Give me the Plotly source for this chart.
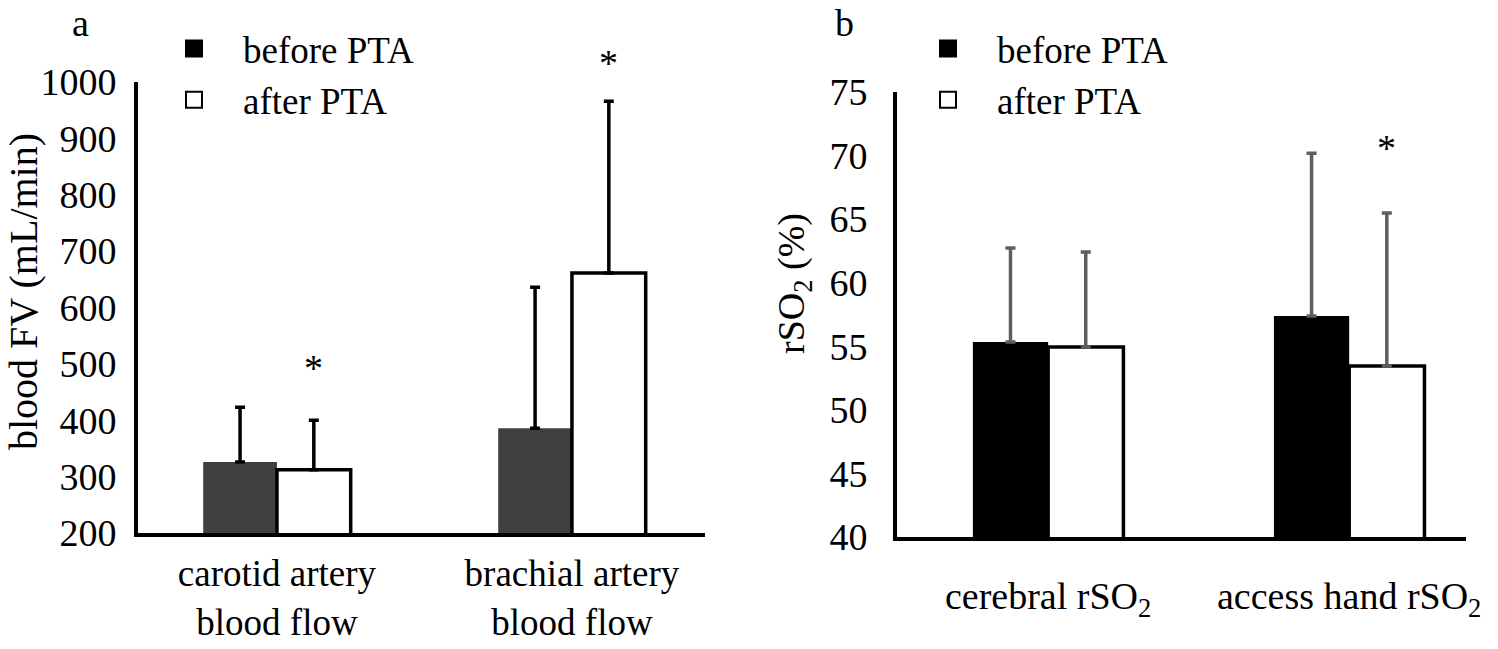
import plotly.graph_objects as go

# panel a: blood flow volume
flow_groups = ["carotid artery<br>blood flow", "brachial artery<br>blood flow"]
flow_before = [326, 386]
flow_before_sd = [97, 250]
flow_after = [312, 661]
flow_after_sd = [88, 305]
flow_ticks = [200, 300, 400, 500, 600, 700, 800, 900, 1000]

# panel b: regional oxygen saturation
rso2_groups = ["cerebral rSO<sub>2</sub>", "access hand rSO<sub>2</sub>"]
rso2_before = [55.34, 57.39]
rso2_before_sd = [7.4, 12.8]
rso2_after = [54.95, 53.45]
rso2_after_sd = [7.47, 12.04]
rso2_ticks = [40, 45, 50, 55, 60, 65, 70, 75]

pos = [0, 1]
gap = 0.5
FONT = "Liberation Serif"

# the page body has an 8px margin, so place things in page pixels
W, H = 1490, 641


def fx(p):
    return (p - 8) / W


def fy(p):
    return 1 - (p - 8) / H


fig = go.Figure()

fig.add_trace(go.Bar(
    x=pos, y=flow_before, name="before PTA", showlegend=False,
    marker=dict(color="#404040", line=dict(width=0)),
    error_y=dict(type="data", array=flow_before_sd, arrayminus=[0, 0], symmetric=False,
                 color="black", thickness=3.5, width=5),
    xaxis="x", yaxis="y",
))
fig.add_trace(go.Bar(
    x=pos, y=flow_after, name="after PTA", showlegend=False,
    marker=dict(color="white", line=dict(color="black", width=3.5)),
    error_y=dict(type="data", array=flow_after_sd, arrayminus=[0, 0], symmetric=False,
                 color="black", thickness=3.5, width=5),
    xaxis="x", yaxis="y",
))
fig.add_trace(go.Bar(
    x=pos, y=rso2_before, name="before PTA", showlegend=False,
    marker=dict(color="black", line=dict(width=0)),
    error_y=dict(type="data", array=rso2_before_sd, arrayminus=[0, 0], symmetric=False,
                 color="#5f5f5f", thickness=3.5, width=5),
    xaxis="x2", yaxis="y2",
))
fig.add_trace(go.Bar(
    x=pos, y=rso2_after, name="after PTA", showlegend=False,
    marker=dict(color="white", line=dict(color="black", width=3.5)),
    error_y=dict(type="data", array=rso2_after_sd, arrayminus=[0, 0], symmetric=False,
                 color="#5f5f5f", thickness=3.5, width=5),
    xaxis="x2", yaxis="y2",
))

# legend entries (square swatches like the original)
for lg, xa, ya in [("legend", "x", "y"), ("legend2", "x2", "y2")]:
    fig.add_trace(go.Scatter(
        x=[None], y=[None], mode="markers", name="before PTA", legend=lg,
        marker=dict(symbol="square", size=16, color="black",
                    line=dict(color="black", width=2)),
        xaxis=xa, yaxis=ya,
    ))
    fig.add_trace(go.Scatter(
        x=[None], y=[None], mode="markers", name="after PTA", legend=lg,
        marker=dict(symbol="square", size=16, color="white",
                    line=dict(color="black", width=2)),
        xaxis=xa, yaxis=ya,
    ))

# significance stars above the after-PTA error bars
star_x = [p + (1 - gap) / 4 for p in pos]
annos = [
    dict(x=star_x[0], y=flow_after[0] + flow_after_sd[0], xref="x", yref="y",
         text="*", showarrow=False, yanchor="middle", yshift=52, font=dict(size=38)),
    dict(x=star_x[1], y=flow_after[1] + flow_after_sd[1], xref="x", yref="y",
         text="*", showarrow=False, yanchor="middle", yshift=38, font=dict(size=38)),
    dict(x=star_x[1], y=rso2_after[1] + rso2_after_sd[1], xref="x2", yref="y2",
         text="*", showarrow=False, yanchor="middle", yshift=65, font=dict(size=38)),
    dict(x=fx(80), y=fy(23), xref="paper", yref="paper", text="a",
         xanchor="center", yanchor="middle", showarrow=False, font=dict(size=38)),
    dict(x=fx(844), y=fy(23), xref="paper", yref="paper", text="b",
         xanchor="center", yanchor="middle", showarrow=False, font=dict(size=38)),
    dict(x=fx(24), y=fy(292), xref="paper", yref="paper", text="blood FV (mL/min)",
         textangle=-90, xanchor="center", yanchor="middle", showarrow=False,
         font=dict(size=40)),
    dict(x=fx(794), y=fy(283), xref="paper", yref="paper", text="rSO<sub>2</sub> (%)",
         textangle=-90, xanchor="center", yanchor="middle", showarrow=False,
         font=dict(size=38)),
]

axis_common = dict(showgrid=False, zeroline=False, showline=True, linecolor="black",
                   linewidth=4, ticks="", automargin=False)
tf = dict(family=FONT, size=38, color="black")
lf = dict(family=FONT, size=37, color="black")

fig.update_layout(
    width=W, height=H, autosize=False,
    margin=dict(l=0, r=0, t=0, b=0, autoexpand=False),
    paper_bgcolor="white", plot_bgcolor="white",
    font=dict(family=FONT, size=38, color="black"),
    barmode="group", bargap=gap, bargroupgap=0,
    annotations=annos,
    xaxis=dict(domain=[fx(138), fx(705)], anchor="y", range=[-0.471, 1.451],
               tickvals=pos, ticktext=flow_groups, ticklabelstandoff=5,
               tickfont=dict(family=FONT, size=37, color="black"), **axis_common),
    yaxis=dict(domain=[fy(533), fy(82)], anchor="x", range=[200, 1000],
               tickvals=flow_ticks, ticklabelstandoff=10, tickfont=tf, **axis_common),
    xaxis2=dict(domain=[fx(897), fx(1466)], anchor="y2", range=[-0.502, 1.388],
                tickvals=pos, ticktext=rso2_groups, ticklabelstandoff=22,
                tickfont=tf, **axis_common),
    yaxis2=dict(domain=[fy(537), fy(92)], anchor="x2", range=[40, 75],
                tickvals=rso2_ticks, ticklabelstandoff=18, tickfont=tf, **axis_common),
    legend=dict(x=fx(145), y=fy(18), xanchor="left", yanchor="top",
                bgcolor="rgba(0,0,0,0)", itemwidth=88, font=lf,
                tracegroupgap=0, itemsizing="trace"),
    legend2=dict(x=fx(899), y=fy(18), xanchor="left", yanchor="top",
                 bgcolor="rgba(0,0,0,0)", itemwidth=88, font=lf,
                 tracegroupgap=0, itemsizing="trace"),
    showlegend=True,
)

fig.write_html("out.html")
